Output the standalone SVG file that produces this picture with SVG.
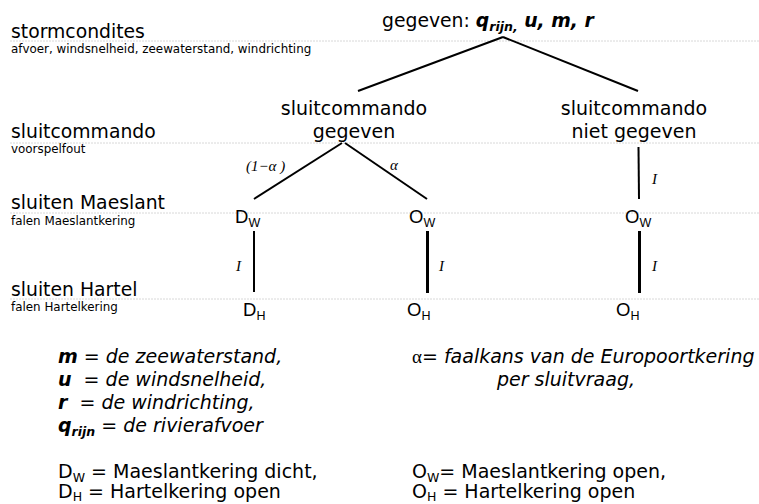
<svg xmlns="http://www.w3.org/2000/svg" width="759" height="504" viewBox="0 0 759 504">
<style>
.bg{fill:#fff}
.grid{stroke:#d8d8d8;stroke-width:1;stroke-dasharray:2 1;fill:none}
.lvl{font-family:"DejaVu Sans",Verdana,sans-serif;font-size:18.8px;fill:#000}
.sub{font-family:"DejaVu Sans",Verdana,sans-serif;font-size:11.9px;fill:#000}
.node{font-family:"DejaVu Sans",Verdana,sans-serif;font-size:19px;fill:#000;text-anchor:middle}
.st{font-family:"Liberation Sans",Arial,sans-serif;font-size:18.5px;fill:#000}
.ss{font-size:12.5px}
.prob{font-family:"Liberation Serif","Times New Roman",serif;font-style:italic;font-size:15px;fill:#000}
.leg{font-family:"DejaVu Sans",Verdana,sans-serif;font-size:19px;fill:#000}
.it{font-style:italic}
.bi{font-style:italic;font-weight:bold}
.ln{stroke:#000;stroke-width:2;fill:none}
.lt{stroke:#000;stroke-width:3;fill:none}
</style>
<rect class="bg" x="0" y="0" width="759" height="504"/>
<g id="gridlines">
<line class="grid" x1="10" y1="41" x2="759" y2="41"/>
<line class="grid" x1="10" y1="143" x2="759" y2="143"/>
<line class="grid" x1="10" y1="213" x2="759" y2="213"/>
<line class="grid" x1="10" y1="299" x2="759" y2="299"/>
</g>
<g id="levels">
<text class="lvl" x="11" y="38">stormcondites</text>
<text class="sub" x="11" y="53">afvoer, windsnelheid, zeewaterstand, windrichting</text>
<text class="lvl" x="11" y="138">sluitcommando</text>
<text class="sub" x="11" y="153">voorspelfout</text>
<text class="lvl" x="11" y="209">sluiten Maeslant</text>
<text class="sub" x="11" y="225">falen Maeslantkering</text>
<text class="lvl" x="11" y="296">sluiten Hartel</text>
<text class="sub" x="11" y="311">falen Hartelkering</text>
</g>
<g id="root">
<text class="lvl" x="382" y="27" font-size="19">gegeven: <tspan class="bi">q</tspan><tspan class="bi" font-size="12.5" dy="4">rijn,</tspan><tspan class="bi" dy="-4"> u, m, r</tspan></text>
</g>
<g id="n-gegeven">
<text class="node" x="354" y="115">sluitcommando</text>
<text class="node" x="354" y="138">gegeven</text>
</g>
<g id="n-nietgegeven">
<text class="node" x="634" y="115">sluitcommando</text>
<text class="node" x="634" y="138">niet gegeven</text>
</g>
<g id="n-dw"><text class="st" x="235" y="223">D<tspan class="ss" dy="4">W</tspan></text></g>
<g id="n-ow1"><text class="st" x="409" y="223">O<tspan class="ss" dy="4">W</tspan></text></g>
<g id="n-ow2"><text class="st" x="625" y="223">O<tspan class="ss" dy="4">W</tspan></text></g>
<g id="n-dh"><text class="st" x="243" y="316">D<tspan class="ss" dy="4">H</tspan></text></g>
<g id="n-oh1"><text class="st" x="407" y="316">O<tspan class="ss" dy="4">H</tspan></text></g>
<g id="n-oh2"><text class="st" x="616" y="316">O<tspan class="ss" dy="4">H</tspan></text></g>
<g id="connectors">
<line class="ln" x1="503" y1="37" x2="358" y2="91"/>
<line class="ln" x1="503" y1="37" x2="638" y2="91"/>
<line class="ln" x1="342" y1="143" x2="254" y2="199"/>
<line class="ln" x1="345" y1="143" x2="427" y2="199"/>
<line class="ln" x1="638.5" y1="147" x2="639" y2="199"/>
<line class="ln" x1="254" y1="231" x2="254" y2="292"/>
<line class="lt" x1="427.5" y1="231" x2="427.5" y2="293"/>
<line class="lt" x1="639.5" y1="231" x2="639.5" y2="293"/>
<text class="prob" x="246" y="171">(1−α )</text>
<text class="prob" x="390" y="170">α</text>
<text class="prob" x="652" y="184">I</text>
<text class="prob" x="236" y="271">I</text>
<text class="prob" x="439" y="271">I</text>
<text class="prob" x="652" y="271">I</text>
</g>
<g id="legend">
<text class="leg" x="58" y="363"><tspan class="bi">m</tspan><tspan class="it"> = de zeewaterstand,</tspan></text>
<text class="leg" x="58" y="386" xml:space="preserve"><tspan class="bi">u</tspan><tspan class="it">  = de windsnelheid,</tspan></text>
<text class="leg" x="58" y="409" xml:space="preserve"><tspan class="bi">r</tspan><tspan class="it">  = de windrichting,</tspan></text>
<text class="leg" x="58" y="432"><tspan class="bi">q</tspan><tspan class="bi" font-size="12.5" dy="4">rijn</tspan><tspan class="it" dy="-4"> = de rivierafvoer</tspan></text>
<text class="leg" x="412" y="363"><tspan font-family="Liberation Serif,serif">α</tspan><tspan class="it">= faalkans van de Europoortkering</tspan></text>
<text class="leg it" x="497" y="386">per sluitvraag,</text>
<text class="leg" x="58" y="478">D<tspan font-size="12.5" dy="4">W</tspan><tspan dy="-4"> = Maeslantkering dicht,</tspan></text>
<text class="leg" x="58" y="498">D<tspan font-size="12.5" dy="3">H</tspan><tspan dy="-3"> = Hartelkering open</tspan></text>
<text class="leg" x="412" y="478">O<tspan font-size="12.5" dy="4">W</tspan><tspan dy="-4">= Maeslantkering open,</tspan></text>
<text class="leg" x="412" y="498">O<tspan font-size="12.5" dy="3">H</tspan><tspan dy="-3"> = Hartelkering open</tspan></text>
</g>
</svg>
